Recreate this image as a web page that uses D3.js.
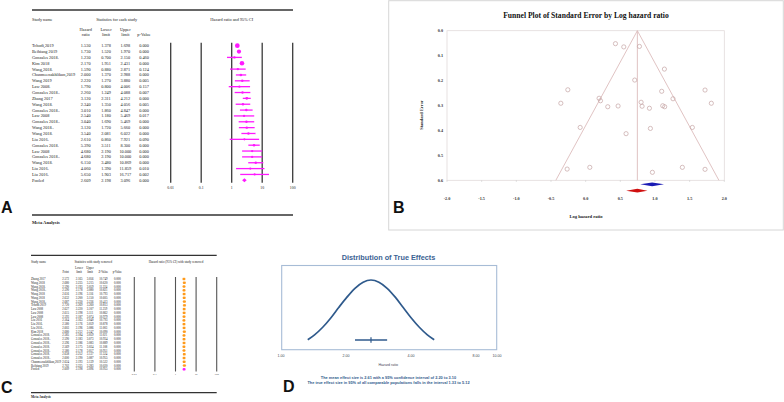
<!DOCTYPE html>
<html><head><meta charset="utf-8">
<script src="https://cdn.jsdelivr.net/npm/d3@7/dist/d3.min.js"></script>
<style>body{margin:0;background:#fff}svg{display:block;background:#fff}</style>
</head><body>
<svg id="c" width="784" height="402"></svg>
<script>
// ---------- Panel A data (forest plot) ----------
const studiesA = ["Tchodi,2019","Beibiang 2019","Gonzales 2018.","Kim 2018","Wang,2018.","Chanmeenakhlikun,2019","Wang 2019","Law 2008.","Gonzales 2018..","Zhang 2017","Wang 2018.","Gonzales 2018..","Law 2008","Gonzales 2018..","Wang 2018..","Wang 2018.","Liu 2016.","Gonzales 2018.","Law 2008","Gonzales 2018..","Wang 2018.","Liu 2016.","Liu 2016.","Pooled"];
const hrA    = [1.530,1.730,1.230,2.170,1.590,2.000,2.220,1.790,2.260,3.120,2.340,3.010,2.540,3.040,3.120,3.540,2.610,5.390,4.680,4.680,6.150,4.060,5.650,2.609];
const lowerA = [1.378,1.520,0.700,1.951,0.880,1.370,1.270,0.800,1.249,2.311,1.350,1.860,1.180,1.690,1.720,2.081,0.860,3.511,2.190,2.190,3.480,1.390,1.903,2.198];
const upperA = [1.698,1.970,2.150,2.431,2.871,2.988,3.880,4.006,4.088,4.212,4.056,4.847,5.469,5.469,5.660,6.022,7.921,8.300,10.000,10.000,10.869,11.859,16.717,3.096];
const pA     = ["0.000","0.000","0.460","0.000","0.124","0.000","0.005","0.157","0.007","0.000","0.005","0.000","0.017","0.000","0.000","0.000","0.090","0.000","0.000","0.000","0.000","0.010","0.002","0.000"];
const ticksA = [0.01,0.1,1,10,100];
const tickLabelsA = ["0.01","0.1","1","10","100"];

// ---------- Panel B data (funnel plot) ----------
const funnelLogHR = [0.430,0.550,0.776,1.136,0.708,-0.257,1.722,1.097,1.260,0.194,0.214,-0.358,1.813,0.800,0.814,0.319,0.468,0.920,1.112,1.140,-0.079,0.934,1.539,0.583,-0.267,0.060,0.963,1.395,1.722];
const funnelSE    = [0.052,0.065,0.063,0.154,0.198,0.237,0.238,0.243,0.273,0.271,0.281,0.291,0.291,0.287,0.303,0.305,0.302,0.311,0.301,0.305,0.388,0.392,0.388,0.413,0.555,0.548,0.568,0.548,0.556];
const funnelCenter = 0.746;
const observedDiamond = [0.788,0.959,1.130];
const adjustedDiamond = [0.584,0.746,0.891];
const ticksBx = [-2.0,-1.5,-1.0,-0.5,0.0,0.5,1.0,1.5,2.0];
const ticksBy = [0.0,0.1,0.2,0.3,0.4,0.5,0.6];

// ---------- Panel C data (one study removed) ----------
const studiesC = ["Zhang 2017","Wang 2018","Wang 2018.","Wang 2018..","Wang 2018","Wang 2018","Wang 2018..","Tchodi 2019","Law 2008","Law 2008","Law 2008","Liu 2016","Liu 2016.","Liu 2016..","Kim 2018","Gonzales 2018.","Gonzales 2018..","Gonzales 2018..","Gonzales 2018.","Gonzales 2018..","Gonzales 2018.","Gonzales 2018..","Chanmeenakhlikun,2019","Beibiang 2019","Pooled"];
const pointC = [2.572,2.680,2.590,2.590,2.616,2.632,2.687,2.720,2.627,2.615,2.593,2.564,2.580,2.603,2.680,2.585,2.590,2.596,2.569,2.580,2.658,2.600,2.624,2.702,2.609];
const lowerC = [2.165,2.235,2.193,2.178,2.196,2.200,2.230,2.269,2.220,2.198,2.187,2.163,2.176,2.196,2.212,2.184,2.183,2.186,2.175,2.178,2.252,2.190,2.193,2.225,2.198];
const upperC = [3.056,3.215,3.059,3.080,3.116,3.150,3.236,3.260,3.107,3.111,3.074,3.040,3.059,3.086,3.247,3.059,3.073,3.083,3.034,3.057,3.137,3.087,3.139,3.283,3.096];
const zC     = [10.749,10.620,11.224,10.821,10.793,10.605,10.413,10.813,11.259,10.862,10.979,10.793,10.878,11.003,10.090,11.021,10.934,10.889,11.108,10.951,11.524,10.955,10.522,10.020,10.955];

// ---------- Panel D data (distribution of true effects) ----------
const curveHR      = [1.33,1.43,1.56,1.70,1.85,2.02,2.20,2.40,2.61,2.84,3.10,3.38,3.68,4.01,4.37,4.76,5.12];
const curveDensity = [0.146,0.216,0.325,0.458,0.607,0.755,0.882,0.969,1.0,0.969,0.882,0.755,0.607,0.458,0.325,0.216,0.146];
const meanHR = 2.61, ciLow = 2.20, ciHigh = 3.10, piLow = 1.33, piHigh = 5.12;
const ticksD = [1,2,4,8,10];
const tickLabelsD = ["1.00","2.00","4.00","8.00","10.00"];

// ================= drawing =================
const svg = d3.select("#c");
const serif = "'Liberation Serif','Times New Roman',serif";
const sans = "'Liberation Sans',Arial,sans-serif";
function txt(g,x,y,s,o={}){
  return g.append("text").attr("x",x).attr("y",y).attr("dy","0.35em").text(s)
    .attr("font-family",o.ff||serif).attr("font-size",o.fs||4.3)
    .attr("text-anchor",o.a||"start").attr("fill",o.fill||"#222")
    .attr("font-weight",o.fw||"normal");
}

// ---------------- Panel A ----------------
const gA = svg.append("g");
gA.append("line").attr("x1",32).attr("x2",293).attr("y1",10).attr("y2",10).attr("stroke","#333").attr("stroke-width",1.5);
txt(gA,32,19,"Study name");
txt(gA,116.7,19,"Statistics for each study",{a:"middle"});
txt(gA,231.7,19,"Hazard ratio and 95% CI",{a:"middle"});
const colA = [85.7,106,125.3,144];
[["Hazard","ratio"],["Lower","limit"],["Upper","limit"]].forEach((h,i)=>{
  txt(gA,colA[i],29.8,h[0],{a:"middle"}); txt(gA,colA[i],34.3,h[1],{a:"middle"});
});
txt(gA,colA[3],34.3,"p-Value",{a:"middle"});
const yA = d3.scalePoint().domain(d3.range(studiesA.length)).range([45.7,180.3]);
const xA = d3.scaleLog().domain([0.01,100]).range([170.7,292.7]);
studiesA.forEach((s,i)=>{
  const y=yA(i);
  txt(gA,32,y,s);
  txt(gA,colA[0],y,hrA[i].toFixed(3),{a:"middle"});
  txt(gA,colA[1],y,lowerA[i].toFixed(3),{a:"middle"});
  txt(gA,colA[2],y,upperA[i].toFixed(3),{a:"middle"});
  txt(gA,colA[3],y,pA[i],{a:"middle"});
});
ticksA.forEach((t,i)=>{
  gA.append("line").attr("x1",xA(t)).attr("x2",xA(t)).attr("y1",42.7).attr("y2",182.7).attr("stroke","#3a3a3a").attr("stroke-width",1.3);
  txt(gA,xA(t),187.8,tickLabelsA[i],{a:"middle",fs:3.8});
});
const pink="#ff19ff";
studiesA.forEach((s,i)=>{
  const y=yA(i);
  if(s==="Pooled"){
    gA.append("path").attr("d",`M${xA(lowerA[i])},${y}L${xA(hrA[i])},${y-2}L${xA(upperA[i])},${y}L${xA(hrA[i])},${y+2}Z`).attr("fill",pink);
    return;
  }
  gA.append("line").attr("x1",xA(lowerA[i])).attr("x2",xA(upperA[i])).attr("y1",y).attr("y2",y).attr("stroke",pink).attr("stroke-width",1.3);
  const se=(Math.log(upperA[i])-Math.log(lowerA[i]))/3.92;
  const r=Math.min(2.4,0.95+0.075/se);
  gA.append("circle").attr("cx",xA(hrA[i])).attr("cy",y).attr("r",r).attr("fill",pink);
});
svg.append("text").attr("x",1).attr("y",213).text("A").attr("font-family",sans).attr("font-size",16).attr("font-weight","bold").attr("fill","#111");
gA.append("line").attr("x1",32).attr("x2",293).attr("y1",215).attr("y2",215).attr("stroke","#333").attr("stroke-width",1.5);
txt(gA,32,222.3,"Meta Analysis",{fw:"bold",fs:4.6});

// ---------------- Panel B ----------------
const gB = svg.append("g");
gB.append("rect").attr("x",388.7).attr("y",0.7).attr("width",394.6).attr("height",229.3).attr("fill","none").attr("stroke","#d6d6d6").attr("stroke-width",1);
txt(gB,586,15.7,"Funnel Plot of Standard Error by Log hazard ratio",{a:"middle",fw:"bold",fs:7.6,fill:"#111"});
const xB = d3.scaleLinear().domain([-2,2]).range([447,724.3]);
const yB = d3.scaleLinear().domain([0,0.6]).range([30.7,180.3]);
gB.append("rect").attr("x",xB(-2)).attr("y",yB(0)).attr("width",xB(2)-xB(-2)).attr("height",yB(0.6)-yB(0)).attr("fill","none").attr("stroke","#e2dada").attr("stroke-width",0.8);
ticksBy.forEach(t=>txt(gB,443,yB(t),t.toFixed(1),{a:"end",fw:"bold",fs:4.2,fill:"#333"}));
ticksBx.forEach(t=>{
  gB.append("line").attr("x1",xB(t)).attr("x2",xB(t)).attr("y1",yB(0.6)).attr("y2",yB(0.6)+1.5).attr("stroke","#ccc").attr("stroke-width",0.7);
  txt(gB,xB(t),199,t.toFixed(1),{a:"middle",fw:"bold",fs:4.2,fill:"#333"});
});
const fcol="#dcbcbc";
gB.append("line").attr("x1",xB(funnelCenter)).attr("x2",xB(funnelCenter)).attr("y1",yB(0)).attr("y2",yB(0.6)).attr("stroke",fcol).attr("stroke-width",0.9);
gB.append("line").attr("x1",xB(funnelCenter)).attr("y1",yB(0)).attr("x2",xB(funnelCenter-1.96*0.6)).attr("y2",yB(0.6)).attr("stroke",fcol).attr("stroke-width",0.9);
gB.append("line").attr("x1",xB(funnelCenter)).attr("y1",yB(0)).attr("x2",xB(funnelCenter+1.96*0.6)).attr("y2",yB(0.6)).attr("stroke",fcol).attr("stroke-width",0.9);
funnelLogHR.forEach((v,i)=>{
  gB.append("circle").attr("cx",xB(v)).attr("cy",yB(funnelSE[i])).attr("r",2.1).attr("fill","none").attr("stroke","#c4a4a4").attr("stroke-width",0.7);
});
function diamond(d,y,col){
  gB.append("path").attr("d",`M${xB(d[0])},${y}L${xB(d[1])},${y-1.9}L${xB(d[2])},${y}L${xB(d[1])},${y+1.9}Z`).attr("fill",col);
}
diamond(observedDiamond,184.3,"#1a1ab4");
diamond(adjustedDiamond,190.7,"#d01010");
svg.append("text").attr("x",393).attr("y",213).text("B").attr("font-family",sans).attr("font-size",16).attr("font-weight","bold").attr("fill","#111");
txt(gB,586,216.7,"Log hazard ratio",{a:"middle",fw:"bold",fs:4.6,fill:"#222"});
gB.append("text").attr("transform","translate(421.7,115) rotate(-90)").attr("text-anchor","middle").attr("dy","0.35em")
  .text("Standard Error").attr("font-family",serif).attr("font-size",4.4).attr("font-weight","bold").attr("fill","#333");

// ---------------- Panel C ----------------
const gC = svg.append("g");
gC.append("line").attr("x1",31).attr("x2",216.7).attr("y1",255.3).attr("y2",255.3).attr("stroke","#333").attr("stroke-width",1.2);
txt(gC,31,261.7,"Study name",{fs:3.2});
txt(gC,93.3,261.7,"Statistics with study removed",{a:"middle",fs:3.2});
txt(gC,176,261.7,"Hazard ratio (95% CI) with study removed",{a:"middle",fs:3.2});
const colC=[65.7,79,90,103.3,117.3];
txt(gC,colC[0],272.3,"Point",{a:"middle",fs:3});
txt(gC,colC[1],268.2,"Lower",{a:"middle",fs:3}); txt(gC,colC[1],272.3,"limit",{a:"middle",fs:3});
txt(gC,colC[2],268.2,"Upper",{a:"middle",fs:3}); txt(gC,colC[2],272.3,"limit",{a:"middle",fs:3});
txt(gC,colC[3],272.3,"Z-Value",{a:"middle",fs:3});
txt(gC,colC[4],272.3,"p-Value",{a:"middle",fs:3});
const yC = d3.scalePoint().domain(d3.range(studiesC.length)).range([279,369.3]);
const xC = d3.scaleLog().domain([0.01,100]).range([134.3,216.7]);
studiesC.forEach((s,i)=>{
  const y=yC(i);
  txt(gC,31,y,s,{fs:3});
  txt(gC,colC[0],y,pointC[i].toFixed(3),{a:"middle",fs:3});
  txt(gC,colC[1],y,lowerC[i].toFixed(3),{a:"middle",fs:3});
  txt(gC,colC[2],y,upperC[i].toFixed(3),{a:"middle",fs:3});
  txt(gC,colC[3],y,zC[i].toFixed(3),{a:"middle",fs:3});
  txt(gC,colC[4],y,"0.000",{a:"middle",fs:3});
});
ticksA.forEach((t,i)=>{
  gC.append("line").attr("x1",xC(t)).attr("x2",xC(t)).attr("y1",277).attr("y2",371.5).attr("stroke","#555").attr("stroke-width",1.1);
  txt(gC,xC(t),373.6,tickLabelsA[i],{a:"middle",fs:2.9});
});
studiesC.forEach((s,i)=>{
  const y=yC(i);
  gC.append("line").attr("x1",xC(lowerC[i])).attr("x2",xC(upperC[i])).attr("y1",y).attr("y2",y).attr("stroke",s==="Pooled"?pink:"#ff9a1a").attr("stroke-width",0.8);
  gC.append("rect").attr("x",xC(pointC[i])-1.2).attr("y",y-1.2).attr("width",2.4).attr("height",2.4).attr("fill",s==="Pooled"?pink:"#ff9a1a");
});
svg.append("text").attr("x",1).attr("y",393).text("C").attr("font-family",sans).attr("font-size",16).attr("font-weight","bold").attr("fill","#111");
gC.append("line").attr("x1",31).attr("x2",216.7).attr("y1",392.7).attr("y2",392.7).attr("stroke","#333").attr("stroke-width",1.2);
txt(gC,31,397.3,"Meta Analysis",{fw:"bold",fs:3.3});

// ---------------- Panel D ----------------
const gD = svg.append("g");
const blue="#2f5a8c";
txt(gD,388.5,257.3,"Distribution of True Effects",{a:"middle",ff:sans,fw:"bold",fs:7.3,fill:"#3b6293"});
gD.append("rect").attr("x",281.7).attr("y",265.5).attr("width",215).attr("height",84.2).attr("fill","none").attr("stroke","#a7bcd6").attr("stroke-width",1.1);
const xD = d3.scaleLog().domain([1,10]).range([281,497]);
const yD = d3.scaleLinear().domain([0,1]).range([350,280]);
const line = d3.line().x((d,i)=>xD(curveHR[i])).y(d=>yD(d)).curve(d3.curveMonotoneX);
gD.append("path").attr("d",line(curveDensity)).attr("fill","none").attr("stroke",blue).attr("stroke-width",1.7);
gD.append("line").attr("x1",xD(ciLow)).attr("x2",xD(ciHigh)).attr("y1",340).attr("y2",340).attr("stroke",blue).attr("stroke-width",1.6);
gD.append("line").attr("x1",xD(meanHR)).attr("x2",xD(meanHR)).attr("y1",337.3).attr("y2",342.7).attr("stroke",blue).attr("stroke-width",1.2);
ticksD.forEach((t,i)=>txt(gD,xD(t),356,tickLabelsD[i],{a:"middle",ff:sans,fs:3.6,fill:"#445"}));
txt(gD,388.3,365,"Hazard ratio",{a:"middle",ff:sans,fs:3.6,fill:"#445"});
txt(gD,388.5,377.3,`The mean effect size is ${meanHR.toFixed(2)} with a 95% confidence interval of ${ciLow.toFixed(2)} to ${ciHigh.toFixed(2)}`,{a:"middle",ff:sans,fs:3.9,fill:blue,fw:"bold"});
txt(gD,388.5,382.8,`The true effect size in 95% of all comparable populations falls in the interval ${piLow.toFixed(2)} to ${piHigh.toFixed(2)}`,{a:"middle",ff:sans,fs:3.9,fill:blue,fw:"bold"});
svg.append("text").attr("x",283).attr("y",392).text("D").attr("font-family",sans).attr("font-size",16).attr("font-weight","bold").attr("fill","#111");
</script>
</body></html>
